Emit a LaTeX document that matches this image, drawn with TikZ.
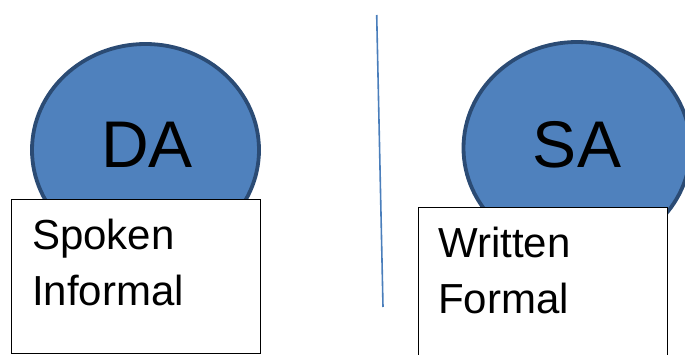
\documentclass[tikz,border=0pt]{standalone}
\usepackage{fontspec}
\usetikzlibrary{shapes.geometric}
\setmainfont{Liberation Sans}
\definecolor{bubblefill}{HTML}{4F81BD}
\definecolor{bubbleedge}{HTML}{2B4B74}
\definecolor{dividerblue}{HTML}{4A7EBB}
\begin{document}
\begin{tikzpicture}[x=1pt,y=1pt,
  bubble/.style={ellipse, draw=bubbleedge, fill=bubblefill, line width=3.8pt,
    inner sep=0pt, minimum width=227pt, minimum height=212pt},
  bubbletext/.style={font=\fontsize{66}{80}\selectfont, anchor=base},
  card/.style={draw=black, fill=white, line width=0.9pt, inner sep=0pt,
    minimum width=249pt, minimum height=154pt, anchor=north west},
  cardtext/.style={font=\fontsize{42}{56}\selectfont, align=left, anchor=base west, inner sep=0pt}]
\useasboundingbox (0,0) rectangle (685,354);
\clip (0,0) rectangle (685,354);
% left group
\node[bubble] (da) at (145.5,204) {};
\node[bubbletext] (daLabel) at (147,186) {DA};
\node[card] (spoken) at (10.5,155) {};
% anchor "base" of a two-line node sits on the last line's baseline
\node[cardtext] (spokenText) at (32,49) {Spoken\\Informal};
% right group
\node[bubble] (sa) at (577,206) {};
\node[bubbletext] (saLabel) at (577,186) {SA};
\node[card] (written) at (417.5,147) {};
\node[cardtext] (writtenText) at (438,41) {Written\\Formal};
% divider
\coordinate (divTop) at (376.7,339);
\coordinate (divBot) at (383,47);
\draw[dividerblue, line width=1.6pt] (divTop) -- (divBot);
\end{tikzpicture}
\end{document}
